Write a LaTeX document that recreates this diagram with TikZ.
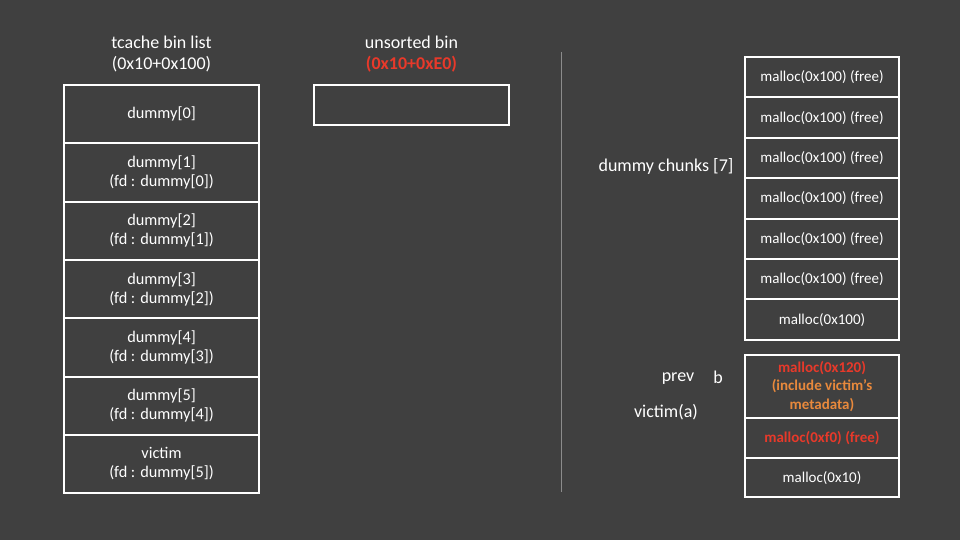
\documentclass[tikz,border=0pt]{standalone}
\usepackage{fontspec}
\setmainfont{Carlito}
\usetikzlibrary{positioning}
\definecolor{bgdark}{HTML}{404040}
\definecolor{hred}{HTML}{E8392A}
\definecolor{horange}{HTML}{E8893C}
\definecolor{sepgray}{HTML}{8C8C8C}

\begin{document}
\begin{tikzpicture}[
  x=1pt, y=-1pt,
  font=\fontsize{16.3}{19}\selectfont,
  every node/.style={text=white},
  cell/.style={draw=white, line width=2pt, outer sep=0pt, inner sep=0pt, align=center, minimum width=195pt, minimum height=58.3pt},
  chunk/.style={draw=white, line width=2pt, outer sep=0pt, inner sep=0pt, align=center, minimum width=154pt, minimum height=40.4pt, font=\fontsize{15}{18}\selectfont},
  title/.style={align=center, font=\fontsize{18}{20.5}\selectfont},
  lbl/.style={font=\fontsize{18}{21}\selectfont}
]
\fill[bgdark] (0,0) rectangle (960,540);

% tcache bin list
\node[title] (tlist) at (161.5,54) {tcache bin list\\(0x10+0x100)};
\node[cell] (d0) at (161.5,114.2) {dummy[0]};
\node[cell, below=0pt of d0] (d1) {dummy[1]\\(fd : dummy[0])};
\node[cell, below=0pt of d1] (d2) {dummy[2]\\(fd : dummy[1])};
\node[cell, below=0pt of d2] (d3) {dummy[3]\\(fd : dummy[2])};
\node[cell, below=0pt of d3] (d4) {dummy[4]\\(fd : dummy[3])};
\node[cell, below=0pt of d4] (d5) {dummy[5]\\(fd : dummy[4])};
\node[cell, below=0pt of d5] (vic) {victim\\(fd : dummy[5])};

% unsorted bin
\node[title] (ulist) at (411.5,54) {unsorted bin\\\textcolor{hred}{\bfseries(0x10+0xE0)}};
\node[cell, minimum height=40pt] (ubin) at (411.5,105) {};

% separator
\coordinate (septop) at (561,52);
\coordinate (sepbot) at (561,492);
\draw[sepgray, line width=1pt] (septop) -- (sepbot);

% heap chunks
\node[chunk] (c0) at (822,77.2) {malloc(0x100) (free)};
\node[chunk, below=0pt of c0] (c1) {malloc(0x100) (free)};
\node[chunk, below=0pt of c1] (c2) {malloc(0x100) (free)};
\node[chunk, below=0pt of c2] (c3) {malloc(0x100) (free)};
\node[chunk, below=0pt of c3] (c4) {malloc(0x100) (free)};
\node[chunk, below=0pt of c4] (c5) {malloc(0x100) (free)};
\node[chunk, below=0pt of c5] (c6) {malloc(0x100)};
\node[chunk, minimum height=63pt, font=\fontsize{15}{18.5}\bfseries] (cb) at (822,386.5)
  {\textcolor{hred}{malloc(0x120)}\\\textcolor{horange}{(include victim’s}\\\textcolor{horange}{metadata)}};
\node[chunk, below=0pt of cb, text=hred, font=\fontsize{15}{18}\bfseries] (ca) {malloc(0xf0) (free)};
\node[chunk, below=0pt of ca, minimum height=39pt] (ct) {malloc(0x10)};

% labels
\node[lbl] (dlbl) at (666,166) {dummy chunks [7]};
\node[lbl] (prev) at (678,379) {prev};
\node[lbl] (blbl) at (718,377) {b};
\node[lbl] (albl) at (666,412) {victim(a)};
\end{tikzpicture}
\end{document}
